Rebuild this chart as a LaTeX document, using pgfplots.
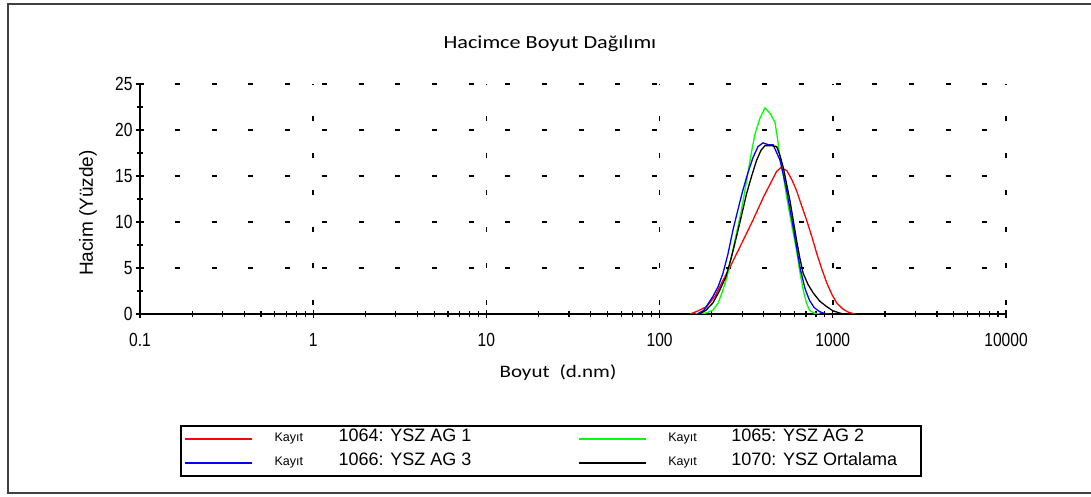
\documentclass[border=0pt]{standalone}
\usepackage{fontspec}
\setmainfont{Liberation Sans}
\newfontfamily\calib{Carlito}[FakeStretch=1.2]
\newfontfamily\tickf{Liberation Sans}[FakeStretch=0.82]
\usepackage{pgfplots}
\pgfplotsset{compat=1.18}
\newcommand{\ent}[3]{\makebox[#1][l]{\makebox[#2][l]{\fontsize{12.5}{12.5}\selectfont Kay\i t}\fontsize{18}{18}\selectfont #3}}
\begin{document}
\begin{tikzpicture}
\useasboundingbox (0,0) rectangle (1091pt,497pt);
\draw[black!75, line width=2.5pt] (1100pt,493pt) -- (8pt,493pt) -- (8pt,4pt) -- (1100pt,4pt);
\begin{axis}[
  at={(140pt,183pt)}, anchor=south west,
  scale only axis, width=866pt, height=230pt,
  xmode=log, xmin=0.1, xmax=10000, ymin=0, ymax=25,
  axis x line=bottom, axis y line=left, axis line style={-},
  x axis line style={line width=2pt},
  y axis line style={line width=1.3pt},
  xtick={0.1,1,10,100,1000,10000},
  xticklabels={0.1,1,10,100,1000,10000},
  minor xtick={0.2,0.3,0.4,0.5,0.6,0.7,0.8,0.9,2,3,4,5,6,7,8,9,20,30,40,50,60,70,80,90,200,300,400,500,600,700,800,900,2000,3000,4000,5000,6000,7000,8000,9000},
  ytick={0,5,10,15,20,25},
  yticklabels={0,5,10,15,20,25},
  minor y tick num=1,
  tick align=center,
  major tick length=8pt, minor tick length=6pt,
  every tick/.style={black, line width=1.2pt},
  ticklabel style={font=\tickf\fontsize{19}{19}\selectfont},
  xticklabel style={yshift=-12pt},
  grid=major,
  major x grid style={black, line width=1.5pt, dash pattern=on 5pt off 31.7pt, dash phase=27.7pt},
  major y grid style={black, line width=1.5pt, dash pattern=on 5pt off 31.7pt, dash phase=1.7pt},
  title={Hacimce Boyut Da\u{g}\i l\i m\i},
  title style={font=\calib\fontsize{18.5}{18.5}\selectfont, at={(axis description cs:0.4734,1.148)}, anchor=center},
  xlabel={Boyut\hspace{10pt}(d.nm)},
  xlabel style={font=\calib\fontsize{17.5}{17.5}\selectfont, at={(axis description cs:0.4827,-0.2565)}, anchor=center},
  ylabel={Hacim (Y\"uzde)},
  ylabel style={font=\fontsize{19}{19}\selectfont, at={(axis description cs:-0.06,0.439)}, anchor=center},
  legend columns=2,
  legend cell align=left,
  legend style={at={(axis description cs:0.0462,-0.4826)}, anchor=north west, draw=black, line width=2pt,
    column sep=0pt, row sep=0pt, inner xsep=3pt, inner ysep=1pt,
    nodes={inner sep=0pt, text height=15pt, text depth=9pt}},
  legend image code/.code={\draw[#1, line width=2pt] (0pt,0pt) -- (67pt,0pt); \path (89pt,0pt);},
]
\addplot[red, line width=1.3pt] table {
x y
150 0
165 0.3
187 0.8
210 2.0
230 3.5
255 5.1
300 7.8
346 10.2
400 12.8
474 15.5
500 15.9
542 15.6
580 14.6
618 13.4
660 11.8
706 10.2
760 8.3
807 6.6
860 5.0
922 3.4
990 2.1
1053 1.2
1150 0.5
1230 0.2
1310 0.05
1350 0
};
\addlegendentry{\ent{303pt}{64pt}{1064: YSZ AG 1}}
\addplot[green, line width=1.3pt] table {
x y
160 0
185 0.1
203 0.4
218 1.2
232 2.6
245 4.0
255 5.5
272 8.0
291 10.5
305 12.5
318 14.5
336 17.2
356 19.6
380 21.3
406 22.4
435 21.8
464 20.8
480 19.0
496 17.0
520 14.8
542 12.7
580 9.6
618 6.9
645 4.6
675 2.6
705 1.2
733 0.4
780 0.1
839 0
};
\addlegendentry{\ent{250pt}{63pt}{1065: YSZ AG 2}}
\addplot[blue, line width=1.3pt] table {
x y
165 0
180 0.4
203 1.9
218 3.0
232 4.4
248 6.5
265 9.1
283 11.3
302 13.4
323 15.3
346 17.0
370 18.2
395 18.6
425 18.4
452 18.4
475 17.5
496 16.7
520 15.0
542 13.4
568 11.2
595 9.1
622 6.9
651 4.8
690 2.8
733 1.5
780 0.7
839 0.25
900 0.05
958 0
};
\addlegendentry{\ent{303pt}{64pt}{1066: YSZ AG 3}}
\addplot[black, line width=1.3pt] table {
x y
170 0
185 0.4
203 1.2
220 2.4
241 4.0
260 6.2
278 8.4
298 10.8
318 13.1
340 15.0
363 16.7
385 17.8
406 18.3
440 18.3
474 18.2
496 17.2
518 15.9
540 14.2
566 12.3
592 10.1
618 8.0
645 6.1
675 4.4
720 3.2
770 2.3
840 1.4
922 0.8
1000 0.35
1099 0.1
1150 0
};
\addlegendentry{\ent{250pt}{63pt}{1070: YSZ Ortalama}}
\end{axis}
\end{tikzpicture}
\end{document}
